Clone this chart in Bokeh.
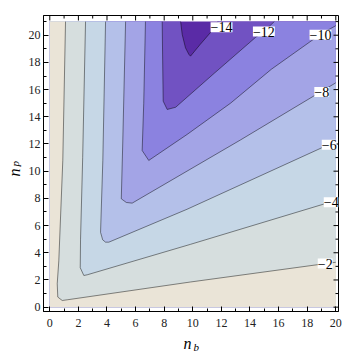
import math
from bokeh.plotting import figure
from bokeh.models import Range1d, FixedTicker, LinearAxis, LabelSet, Title, ColumnDataSource
from bokeh.embed import file_html
from bokeh.resources import INLINE

# ---- data (contour lines of the surface over n_b, n_p) ----
nb_min, nb_max = 0, 20
np_min, np_max = 0, 21

levels = [-2, -4, -6, -8, -10, -12, -14]

c2_x = [1.10, 0.91, 0.63, 0.52, 0.56, 0.87, 1.22, 9.84, 19.2, 20.0]
c2_y = [21.0, 10.8, 3.40, 1.72, 0.74, 0.49, 0.54, 1.85, 3.19, 3.30]

c4_x = [2.50, 2.30, 2.15, 2.13, 2.38, 2.62, 9.84, 19.6, 20.0]
c4_y = [21.0, 11.0, 5.00, 2.90, 2.33, 2.38, 4.62, 7.72, 7.85]

c6_x = [3.90, 3.71, 3.55, 3.70, 3.90, 4.13, 9.60, 19.6, 20.0]
c6_y = [21.0, 10.8, 5.50, 4.95, 4.78, 4.78, 7.20, 12.0, 12.2]

c8_x = [5.30, 5.10, 5.00, 5.35, 5.76, 13.34, 19.05, 20.0]
c8_y = [21.0, 12.0, 7.97, 7.70, 7.65, 12.30, 15.90, 16.5]

c10_x = [6.69, 6.57, 6.46, 6.92, 9.60, 12.64, 15.5, 18.98, 20.0]
c10_y = [21.0, 15.0, 11.52, 10.79, 12.70, 15.00, 17.5, 20.10, 20.7]

c12_x = [7.86, 7.93, 8.21, 8.80, 11.5, 14.4, 14.9, 15.7]
c12_y = [21.0, 15.15, 14.54, 14.70, 17.2, 19.85, 20.2, 21.0]

c14_x = [9.15, 9.26, 9.49, 9.72, 9.84, 10.5, 11.24, 11.75]
c14_y = [21.0, 20.05, 19.07, 18.6, 18.46, 19.3, 20.2, 21.0]

band_colors = ["#5A2BA6", "#7152C2", "#8B82E0", "#A3A4E6", "#B4C0E9",
               "#C6D7E6", "#D6DEDE", "#EAE4D7"]

label_text = ["\u22122", "\u22124", "\u22126", "\u22128", "\u221210", "\u221212", "\u221214"]
label_x = [19.26, 19.68, 19.54, 19.02, 18.93, 14.97, 12.01]
label_y = [3.21, 7.72, 11.95, 15.82, 20.03, 20.27, 20.58]

x_ticks = [0, 2, 4, 6, 8, 10, 12, 14, 16, 18, 20]
x_minor = [1, 3, 5, 7, 9, 11, 13, 15, 17, 19]
y_ticks = [0, 2, 4, 6, 8, 10, 12, 14, 16, 18, 20]
y_minor = [1, 3, 5, 7, 9, 11, 13, 15, 17, 19, 21]

x_lo, x_hi = -0.44, 20.19
y_lo, y_hi = -0.32, 21.45

# ---- figure ----
p = figure(width=350, height=359, output_backend="svg", toolbar_location=None,
           x_range=Range1d(x_lo, x_hi), y_range=Range1d(y_lo, y_hi),
           x_axis_location=None, y_axis_location=None,
           min_border_left=43, min_border_right=12, min_border_top=15, min_border_bottom=48)
p.grid.visible = False
p.outline_line_color = "black"
p.outline_line_width = 1
p.background_fill_color = "white"
p.border_fill_color = "white"

lines = [(c2_x, c2_y), (c4_x, c4_y), (c6_x, c6_y), (c8_x, c8_y),
         (c10_x, c10_y), (c12_x, c12_y), (c14_x, c14_y)]

def above_region(xs, ys):
    if xs[-1] >= nb_max:
        px = [nb_min] + list(xs) + [nb_max, nb_min]
        py = [np_max] + list(ys) + [np_min, np_min]
    else:
        px = [nb_min] + list(xs) + [nb_max, nb_max, nb_min]
        py = [np_max] + list(ys) + [np_max, np_min, np_min]
    return px, py

p.patch([nb_min, nb_max, nb_max, nb_min], [np_min, np_min, np_max, np_max],
        fill_color=band_colors[0], line_color=None)
for i, (xs, ys) in enumerate(reversed(lines)):
    rx, ry = above_region(xs, ys)
    p.patch(rx, ry, fill_color=band_colors[i + 1], line_color=None)

for xs, ys in lines:
    p.line(xs, ys, line_color="black", line_alpha=0.45, line_width=1)

src = ColumnDataSource(dict(x=label_x, y=label_y, text=label_text))
p.add_layout(LabelSet(x="x", y="y", text="text", source=src, text_align="center",
                      text_baseline="middle", text_font="Liberation Serif",
                      text_font_size="14px", text_color="black",
                      background_fill_color="white"))

def make_axis(ticks, minor, standoff):
    ax = LinearAxis(ticker=FixedTicker(ticks=ticks, minor_ticks=minor))
    ax.major_tick_in = 5
    ax.major_tick_out = 0
    ax.minor_tick_in = 3
    ax.minor_tick_out = 0
    ax.axis_line_color = "black"
    ax.major_tick_line_color = "black"
    ax.minor_tick_line_color = "black"
    ax.major_label_text_font = "Liberation Serif"
    ax.major_label_text_font_size = "12px"
    ax.major_label_text_color = "#222222"
    ax.major_label_standoff = standoff
    return ax

p.add_layout(make_axis(x_ticks, x_minor, 7), "below")
p.add_layout(make_axis(y_ticks, y_minor, 3), "left")

# ticks on the top and right frame edges (inward)
px_per_y = 296 / (y_hi - y_lo)
px_per_x = 295 / (x_hi - x_lo)
p.segment(x0=x_ticks, y0=[y_hi] * len(x_ticks), x1=x_ticks,
          y1=[y_hi - 5 / px_per_y] * len(x_ticks), line_color="black", line_width=1)
p.segment(x0=x_minor, y0=[y_hi] * len(x_minor), x1=x_minor,
          y1=[y_hi - 3 / px_per_y] * len(x_minor), line_color="black", line_width=1)
p.segment(x0=[x_hi] * len(y_ticks), y0=y_ticks, x1=[x_hi - 5 / px_per_x] * len(y_ticks),
          y1=y_ticks, line_color="black", line_width=1)
p.segment(x0=[x_hi] * len(y_minor), y0=y_minor, x1=[x_hi - 3 / px_per_x] * len(y_minor),
          y1=y_minor, line_color="black", line_width=1)

# axis titles n_b (below) and n_p (left), built from title pieces
p.add_layout(Title(text="n", align="left", offset=140, standoff=6, vertical_align="bottom",
                   text_font="Liberation Serif", text_font_style="italic",
                   text_font_size="16px", text_color="black"), "below")
p.add_layout(Title(text="b", align="left", offset=150, standoff=-27, vertical_align="top",
                   text_font="Liberation Serif", text_font_style="italic",
                   text_font_size="11px", text_color="black"), "below")
p.add_layout(Title(text="p", align="left", offset=145, standoff=5, vertical_align="top",
                   text_font="Liberation Serif", text_font_style="italic",
                   text_font_size="11px", text_color="black"), "left")
p.add_layout(Title(text="n", align="left", offset=135, standoff=-33, vertical_align="bottom",
                   text_font="Liberation Serif", text_font_style="italic",
                   text_font_size="16px", text_color="black"), "left")

open("out.html", "w").write(file_html(p, INLINE))
